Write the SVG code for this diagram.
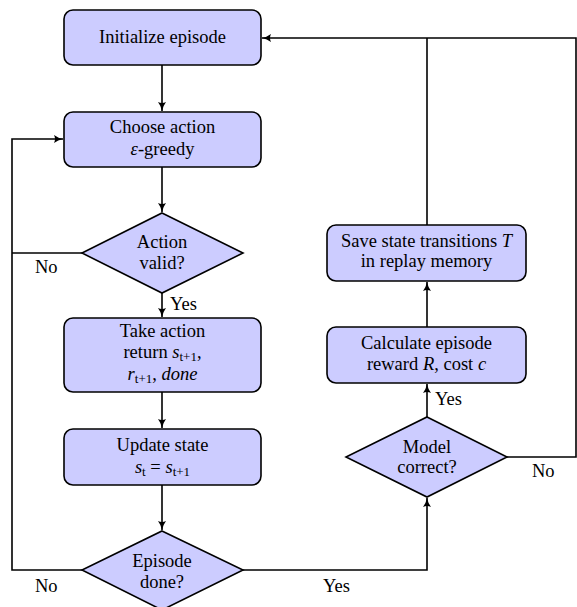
<svg xmlns="http://www.w3.org/2000/svg" width="577" height="607" viewBox="0 0 577 607">
<defs>
<marker id="arr" markerWidth="10" markerHeight="10" refX="9" refY="5" orient="auto" markerUnits="userSpaceOnUse">
<path d="M0,1 Q4,4 9,5 Q4,6 0,9 Q2,5 0,1 Z" fill="#000"/>
</marker>
<style>
.node{fill:#ccccff;stroke:#000;stroke-width:1.6}
text{font-family:'Liberation Serif','DejaVu Serif',serif;font-size:18.5px;fill:#000}
.t{text-anchor:middle}
.m{font-style:italic}
.sub{font-size:13px;font-style:normal}
.c{fill:none;stroke:#000;stroke-width:1.6}
</style>
</defs>
<g id="connectors">
<line class="c" x1="162" y1="65" x2="162" y2="111" marker-end="url(#arr)"/>
<line class="c" x1="162" y1="167" x2="162" y2="212" marker-end="url(#arr)"/>
<line class="c" x1="162" y1="293" x2="162" y2="317" marker-end="url(#arr)"/>
<line class="c" x1="162" y1="392" x2="162" y2="428" marker-end="url(#arr)"/>
<line class="c" x1="162" y1="485" x2="162" y2="530" marker-end="url(#arr)"/>
<polyline class="c" points="82,253 12,253"/>
<polyline class="c" points="82,570 12,570 12,139 63,139" marker-end="url(#arr)"/>
<polyline class="c" points="243,570 427,570 427,498" marker-end="url(#arr)"/>
<line class="c" x1="427" y1="417" x2="427" y2="384" marker-end="url(#arr)"/>
<line class="c" x1="427" y1="327" x2="427" y2="282" marker-end="url(#arr)"/>
<polyline class="c" points="427,225 427,38"/>
<polyline class="c" points="507,457 576,457 576,38 262,38" marker-end="url(#arr)"/>
</g>
<g id="n1"><rect class="node" x="64" y="10" width="197" height="55" rx="9"/><text class="t" x="162.5" y="43">Initialize episode</text></g>
<g id="n2"><rect class="node" x="64" y="112" width="197" height="55" rx="9"/><text class="t" x="162.5" y="133">Choose action</text><text class="t" x="162.5" y="155"><tspan class="m">ε</tspan>-greedy</text></g>
<g id="d1"><polygon class="node" points="162,213 243,253 162,293 82,253"/><text class="t" x="162" y="248">Action</text><text class="t" x="162" y="269">valid?</text></g>
<g id="n3"><rect class="node" x="64" y="318" width="197" height="74" rx="9"/><text class="t" x="162.5" y="337">Take action</text><text class="t" x="162.5" y="358">return <tspan class="m">s</tspan><tspan class="sub" dy="2.5">t+1</tspan><tspan dy="-2.5">,</tspan></text><text class="t" x="162.5" y="380"><tspan class="m">r</tspan><tspan class="sub" dy="2.5">t+1</tspan><tspan dy="-2.5">, </tspan><tspan class="m">done</tspan></text></g>
<g id="n4"><rect class="node" x="64" y="429" width="197" height="56" rx="9"/><text class="t" x="162.5" y="451">Update state</text><text class="t" x="162.5" y="473"><tspan class="m">s</tspan><tspan class="sub" dy="2.5">t</tspan><tspan dy="-2.5"> = </tspan><tspan class="m">s</tspan><tspan class="sub" dy="2.5">t+1</tspan></text></g>
<g id="d2"><polygon class="node" points="162,531 243,570 162,610 82,570"/><text class="t" x="162" y="567">Episode</text><text class="t" x="162" y="588">done?</text></g>
<g id="d3"><polygon class="node" points="427,417 507,457 427,497 346,457"/><text class="t" x="427" y="453">Model</text><text class="t" x="427" y="473">correct?</text></g>
<g id="n5"><rect class="node" x="327" y="327" width="199" height="56" rx="9"/><text class="t" x="426.5" y="349">Calculate episode</text><text class="t" x="426.5" y="370">reward <tspan class="m">R</tspan>, cost <tspan class="m">c</tspan></text></g>
<g id="n6"><rect class="node" x="327" y="225" width="199" height="56" rx="9"/><text class="t" x="426.5" y="247">Save state transitions <tspan class="m">T</tspan></text><text class="t" x="426.5" y="267">in replay memory</text></g>
<g id="labels">
<text x="35" y="273">No</text>
<text x="170" y="310">Yes</text>
<text x="35" y="592">No</text>
<text x="323" y="592">Yes</text>
<text x="532" y="477">No</text>
<text x="435" y="405">Yes</text>
</g>
</svg>
